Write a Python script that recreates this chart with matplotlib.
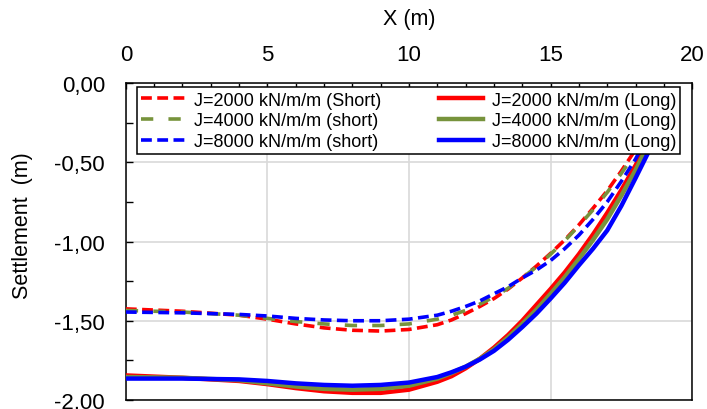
import matplotlib
matplotlib.use('Agg')
import matplotlib.pyplot as plt
from matplotlib.ticker import MultipleLocator, FuncFormatter

plt.rcParams['font.family'] = ['Liberation Sans', 'DejaVu Sans']

# distance along section (m)
x = [0, 2, 4, 5, 6, 7, 8, 9, 10, 11, 11.5, 12, 12.5, 13, 13.5, 14, 14.5, 15,
     15.5, 16, 16.5, 17, 17.5, 18, 18.5, 19]

# short term settlement (m)
short_2000 = [-1.425, -1.44, -1.465, -1.49, -1.52, -1.545, -1.56, -1.565, -1.555, -1.525,
              -1.495, -1.455, -1.41, -1.36, -1.30, -1.23, -1.155, -1.075,
              -0.99, -0.895, -0.79, -0.68, -0.555, -0.42, -0.27, -0.10]
short_4000 = [-1.435, -1.445, -1.465, -1.485, -1.505, -1.52, -1.53, -1.53, -1.52, -1.49,
              -1.465, -1.435, -1.395, -1.35, -1.295, -1.23, -1.16, -1.08,
              -0.995, -0.90, -0.80, -0.69, -0.57, -0.44, -0.28, -0.11]
short_8000 = [-1.445, -1.45, -1.46, -1.47, -1.485, -1.495, -1.50, -1.50, -1.49, -1.465,
              -1.44, -1.41, -1.375, -1.33, -1.285, -1.23, -1.18, -1.12,
              -1.045, -0.96, -0.86, -0.75, -0.62, -0.48, -0.31, -0.13]

# long term settlement (m)
long_2000 = [-1.845, -1.86, -1.88, -1.90, -1.925, -1.945, -1.955, -1.955, -1.935, -1.885,
             -1.85, -1.80, -1.74, -1.67, -1.59, -1.50, -1.40, -1.30,
             -1.195, -1.08, -0.955, -0.82, -0.675, -0.52, -0.35, -0.15]
long_4000 = [-1.855, -1.86, -1.875, -1.895, -1.915, -1.93, -1.935, -1.93, -1.91, -1.865,
             -1.83, -1.79, -1.74, -1.68, -1.605, -1.52, -1.43, -1.33,
             -1.225, -1.11, -0.99, -0.86, -0.71, -0.55, -0.37, -0.17]
long_8000 = [-1.865, -1.865, -1.87, -1.88, -1.895, -1.905, -1.91, -1.905, -1.89, -1.855,
             -1.825, -1.79, -1.745, -1.69, -1.62, -1.54, -1.455, -1.36,
             -1.26, -1.15, -1.045, -0.93, -0.775, -0.60, -0.42, -0.22]

labels_short = ['J=2000 kN/m/m (Short)', 'J=4000 kN/m/m (short)', 'J=8000 kN/m/m (short)']
labels_long = ['J=2000 kN/m/m (Long)', 'J=4000 kN/m/m (Long)', 'J=8000 kN/m/m (Long)']
colors = ['#ff0000', '#77933c', '#0000ff']

fig = plt.figure(figsize=(7.07, 4.10), dpi=100)
ax = fig.add_axes([0.178, 0.022, 0.801, 0.773])

handles = []
for ys, c, lab in zip([long_2000, long_4000, long_8000], colors, labels_long):
    h, = ax.plot(x, ys, color=c, lw=3.2, label=lab, zorder=3)
    handles.append(h)
short_handles = []
dash_styles = [(3.0, 1.5), (3.4, 4.2), (3.0, 1.5)]
for ys, c, lab, d in zip([short_2000, short_4000, short_8000], colors, labels_short, dash_styles):
    h, = ax.plot(x, ys, color=c, lw=2.6, dashes=d, label=lab, zorder=4)
    short_handles.append(h)

ax.set_xlim(0, 20)
ax.set_ylim(-2, 0)

ax.xaxis.set_major_locator(MultipleLocator(5))
ax.xaxis.set_minor_locator(MultipleLocator(1))
ax.yaxis.set_major_locator(MultipleLocator(0.5))
ax.yaxis.set_minor_locator(MultipleLocator(0.25))
ax.yaxis.set_major_formatter(FuncFormatter(
    lambda v, p: ('%.2f' % (0.0 if abs(v) < 1e-9 else v)).replace('.', ',')))

ax.tick_params(axis='x', which='both', top=True, bottom=False, labeltop=True,
               labelbottom=False, direction='in', length=4, width=1, pad=13,
               labelsize=16)
ax.tick_params(axis='y', which='both', left=True, right=False, direction='in',
               length=5, width=1, pad=15, labelsize=16)

ax.grid(True, which='major', color='#d9d9d9', lw=1.2, zorder=0)
for s in ax.spines.values():
    s.set_color('black')
    s.set_linewidth(1.1)

ax.set_ylabel('Settlement  (m)', fontsize=15.5)
ax.yaxis.set_label_coords(-0.164, 0.554)
ax.text(0.5, 1.205, 'X (m)', transform=ax.transAxes, ha='center', va='center',
        fontsize=15.5)

leg = ax.legend(short_handles + handles, labels_short + labels_long, ncol=2,
                loc='upper left', bbox_to_anchor=(0.0194, 0.792, 0.96, 0.195),
                mode='expand', borderaxespad=0, fontsize=13, handlelength=2.4,
                handletextpad=0.5, columnspacing=1.5, labelspacing=0.2,
                borderpad=0.25, fancybox=False, framealpha=1, edgecolor='black')
leg.get_frame().set_linewidth(1.1)
leg.set_zorder(10)

fig.savefig('out.png', dpi=100)
